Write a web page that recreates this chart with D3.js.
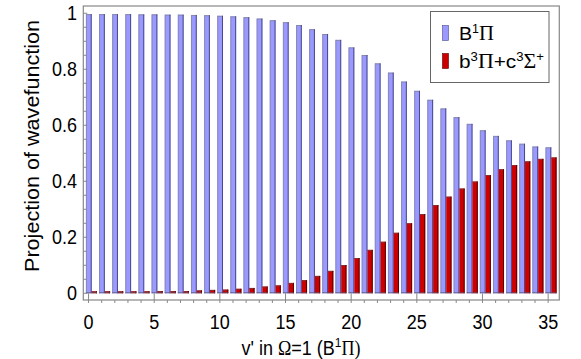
<!DOCTYPE html>
<html><head><meta charset="utf-8">
<script src="https://cdn.jsdelivr.net/npm/d3@7"></script>
<style>body{margin:0;background:#fff}svg{display:block}</style>
</head><body>
<svg id="c" width="581" height="359"></svg>
<script>
const vibLevels = d3.range(0, 36);
const singletB = [0.997,0.997,0.997,0.997,0.996,0.996,0.995,0.995,0.994,0.993,0.991,0.989,0.986,0.981,0.975,0.968,0.958,0.943,0.926,0.905,0.878,0.851,0.821,0.788,0.756,0.723,0.691,0.660,0.629,0.605,0.582,0.562,0.546,0.534,0.524,0.521];
const tripletBC = [0.007,0.007,0.007,0.007,0.007,0.008,0.008,0.008,0.010,0.012,0.013,0.016,0.019,0.024,0.028,0.037,0.047,0.062,0.080,0.101,0.126,0.155,0.184,0.216,0.250,0.283,0.315,0.345,0.374,0.399,0.422,0.443,0.458,0.471,0.480,0.485];
const yTickLabels = ["0","0.2","0.4","0.6","0.8","1"];
const xTickLabels = ["0","5","10","15","20","25","30","35"];

const svg = d3.select("#c");
const sans = "'Liberation Sans', Arial, Helvetica, sans-serif";
const serif = "'Liberation Serif', 'Times New Roman', serif";
const L = 83.3, R = 559.3, T = 6, B = 300;
const x = d3.scaleLinear().domain([-0.4, 35.85]).range([L, R]);
const y = d3.scaleLinear().domain([-0.024, 1.026]).range([B, T]);
const VS = 1.12; // vertical stretch of text in the reference

// bars
const bw0 = -0.2, bw1 = 0.24, bw2 = 0.64;
const g = svg.append("g");
vibLevels.forEach((v, i) => {
  const x0 = x(v + bw0), x1 = x(v + bw1), x2 = x(v + bw2);
  const yb = y(singletB[i]), yr = y(tripletBC[i]), y0 = y(0);
  g.append("rect").attr("x", x0).attr("y", yb).attr("width", x1 - x0).attr("height", y0 - yb)
    .attr("fill", "#9999ff");
  g.append("line").attr("x1", x0 + 0.5).attr("x2", x1).attr("y1", yb + 0.5).attr("y2", yb + 0.5).attr("stroke", "#8888aa");
  g.append("line").attr("x1", x1 - 0.5).attr("x2", x1 - 0.5).attr("y1", yb).attr("y2", y0).attr("stroke", "#4a4a8a");
  g.append("line").attr("x1", x0 + 0.5).attr("x2", x0 + 0.5).attr("y1", yb).attr("y2", y0).attr("stroke", "#8a8ab8");
  g.append("rect").attr("x", x1).attr("y", yr).attr("width", x2 - x1).attr("height", y0 - yr)
    .attr("fill", "#cc0000");
  g.append("line").attr("x1", x1).attr("x2", x2).attr("y1", yr + 0.5).attr("y2", yr + 0.5).attr("stroke", "#8a3030");
  g.append("line").attr("x1", x2 - 0.5).attr("x2", x2 - 0.5).attr("y1", yr).attr("y2", y0).attr("stroke", "#550000");
  g.append("line").attr("x1", x0).attr("x2", x2).attr("y1", y0 - 0.5).attr("y2", y0 - 0.5).attr("stroke", "#555577").attr("stroke-width", 0.8);
});

// frame
svg.append("rect").attr("x", L).attr("y", T).attr("width", R - L).attr("height", B - T)
  .attr("fill", "none").attr("stroke", "#888").attr("stroke-width", 1.2);

// y axis ticks (inward)
const yMinor = d3.range(0, 1.0001, 0.05);
svg.append("g").selectAll("line").data(yMinor).join("line")
  .attr("x1", L).attr("x2", (d, i) => L + (i % 4 === 0 ? 4 : 3))
  .attr("y1", d => y(d)).attr("y2", d => y(d)).attr("stroke", "#888");
svg.append("g").selectAll("text").data(yTickLabels).join("text")
  .attr("transform", d => `translate(77,${y(+d) + 6.5}) scale(1,${VS})`)
  .attr("text-anchor", "end").attr("font-family", sans).attr("font-size", 18)
  .attr("fill", "#000").text(d => d);

// x axis ticks (outward, major longer)
svg.append("g").selectAll("line").data(vibLevels).join("line")
  .attr("x1", d => x(d)).attr("x2", d => x(d))
  .attr("y1", d => d % 5 === 0 ? y(0) : B).attr("y2", B + 3)
  .attr("stroke", "#888");
svg.append("g").selectAll("text").data(xTickLabels).join("text")
  .attr("transform", d => `translate(${x(+d)},329) scale(1,${VS})`)
  .attr("text-anchor", "middle").attr("font-family", sans).attr("font-size", 18)
  .attr("fill", "#000").text(d => d);

// axis titles
const xt = svg.append("text").attr("transform", `translate(301,355) scale(1,${VS})`).attr("text-anchor", "middle")
  .attr("font-family", sans).attr("font-size", 18).attr("fill", "#000");
xt.append("tspan").text("v' in ");
xt.append("tspan").attr("font-family", serif).text("Ω");
xt.append("tspan").text("=1 (B");
xt.append("tspan").attr("font-size", 12).attr("dy", -7).text("1");
xt.append("tspan").attr("font-family", serif).attr("dy", 7).text("Π");
xt.append("tspan").attr("font-family", serif).text(")");

svg.append("text").attr("transform", "translate(39,146) rotate(-90)")
  .attr("text-anchor", "middle").attr("font-family", sans).attr("font-size", 20)
  .attr("textLength", 252).attr("lengthAdjust", "spacingAndGlyphs")
  .attr("fill", "#000").text("Projection of wavefunction");

// legend
const lg = svg.append("g");
lg.append("rect").attr("x", 430.5).attr("y", 11.5).attr("width", 118.5).attr("height", 71)
  .attr("fill", "#fff").attr("stroke", "#666");
const legendItems = [
  {fill: "#9999ff", stroke: "#4a4a8a", len: 35, parts: [["B", 0, sans, 19], ["1", -7, sans, 12], ["Π", 7, serif, 20]]},
  {fill: "#cc0000", stroke: "#550000", len: 85, parts: [["b", 0, sans, 19], ["3", -7, sans, 12], ["Π", 7, serif, 20], ["+c", 0, sans, 19], ["3", -7, sans, 12], ["Σ", 7, serif, 20], ["+", -7, sans, 12]]}
];
legendItems.forEach((it, i) => {
  const by = 40 + i * 28;
  lg.append("rect").attr("x", 442.5).attr("y", by - 14.5).attr("width", 6).attr("height", 15)
    .attr("fill", it.fill).attr("stroke", it.stroke).attr("stroke-width", 0.6);
  const t = lg.append("text").attr("x", 459).attr("y", by).attr("fill", "#000")
    .attr("textLength", it.len).attr("lengthAdjust", "spacingAndGlyphs");
  it.parts.forEach(p => t.append("tspan").attr("dy", p[1]).attr("font-family", p[2]).attr("font-size", p[3]).text(p[0]));
});
</script>
</body></html>
